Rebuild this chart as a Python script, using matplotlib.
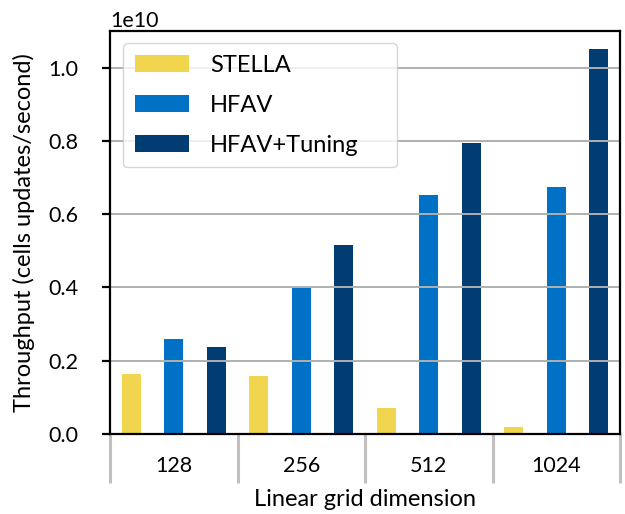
import numpy as np
import matplotlib
matplotlib.use('Agg')
import matplotlib.pyplot as plt

plt.rcParams['font.family'] = ['Lato', 'DejaVu Sans']

sizes = ['128', '256', '512', '1024']
series = ['STELLA', 'HFAV', 'HFAV+Tuning']
stella = [0.164e10, 0.158e10, 0.071e10, 0.019e10]
hfav = [0.260e10, 0.398e10, 0.653e10, 0.675e10]
hfav_tuning = [0.238e10, 0.516e10, 0.795e10, 1.052e10]
colours = ['#F2D54F', '#0171C5', '#013C73']

fig = plt.figure(figsize=(6.25, 5.14), dpi=100)
ax = fig.add_axes([0.176, 0.1556, 0.816, 0.784])

ngroups = len(sizes)
nser = len(series)
for i, (name, vals, c) in enumerate(zip(series, [stella, hfav, hfav_tuning], colours)):
    x = np.arange(ngroups) * nser + i
    ax.bar(x, vals, width=0.45, color=c, label=name)

ax.set_xlim(-0.5, ngroups * nser - 0.5)
ax.set_ylim(0, 1.1e10)
ax.set_yticks(np.arange(0, 1.01e10, 0.2e10))
ax.yaxis.grid(True, color='#b0b0b0', linewidth=1.4)

# group separators as long grey ticks, labels on minor ticks
ax.set_xticks(np.arange(ngroups + 1) * nser - 0.5)
ax.set_xticklabels([])
ax.tick_params(axis='x', which='major', length=35, width=2.2, color='#c0c0c0')
ax.set_xticks(np.arange(ngroups) * nser + 1, minor=True)
ax.set_xticklabels(sizes, minor=True)
ax.tick_params(axis='x', which='minor', length=0, pad=16, labelsize=15.5)
ax.tick_params(axis='y', length=6, width=1.6, labelsize=15.5, pad=17)

for s in ax.spines.values():
    s.set_linewidth(1.6)

ax.yaxis.get_offset_text().set_fontsize(15.5)
ax.set_xlabel('Linear grid dimension', fontsize=17, labelpad=1)
ax.set_ylabel('Throughput (cells updates/second)', fontsize=17, labelpad=9)

ax.legend(loc='upper left', bbox_to_anchor=(13 / 510, 1 - 12 / 403, 274 / 510, 0),
          mode='expand', borderaxespad=0, fontsize=17,
          handlelength=2.3, handleheight=0.76, borderpad=0.5,
          labelspacing=0.8, handletextpad=0.9)

fig.savefig('out.png', dpi=100)
